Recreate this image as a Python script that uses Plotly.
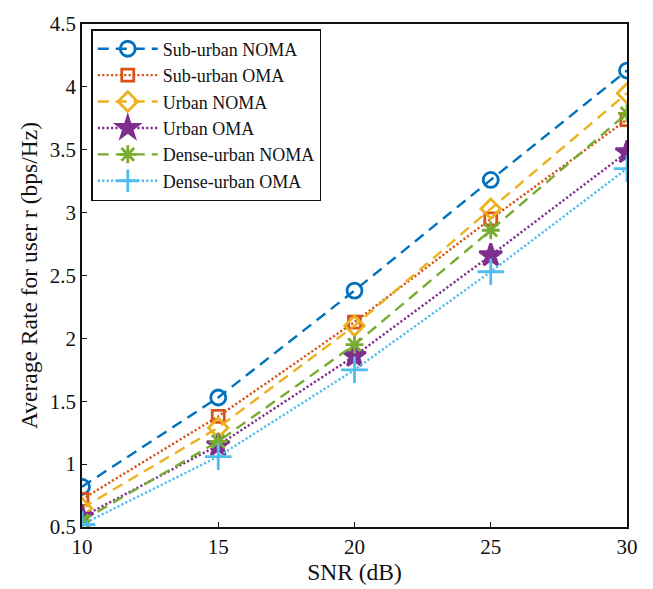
import plotly.graph_objects as go

snr = [10, 15, 20, 25, 30]
names = ["Sub-urban NOMA", "Sub-urban OMA", "Urban NOMA", "Urban OMA",
         "Dense-urban NOMA", "Dense-urban OMA"]
suburban_noma = [0.82, 1.53, 2.38, 3.26, 4.13]
suburban_oma = [0.72, 1.38, 2.13, 2.95, 3.74]
urban_noma = [0.65, 1.29, 2.10, 3.03, 3.95]
urban_oma = [0.58, 1.15, 1.86, 2.66, 3.48]
dense_noma = [0.55, 1.18, 1.95, 2.86, 3.79]
dense_oma = [0.52, 1.06, 1.75, 2.53, 3.35]
series = [suburban_noma, suburban_oma, urban_noma, urban_oma, dense_noma, dense_oma]

colors = ["#0072BD", "#D95319", "#EDB120", "#7E2F8E", "#77AC30", "#4DBEEE"]
dashes = ["11px,7px", "2.2px,2.2px", "11px,7px", "2.2px,2.2px", "11px,7px", "2.2px,2.2px"]
symbols = ["circle-open", "square-open", "diamond-open", "star", "asterisk-open", "cross-thin-open"]
msizes = [15, 12, 15, 17, 15, 19]

fig = go.Figure()
for n, y, c, d, s, ms in zip(names, series, colors, dashes, symbols, msizes):
    fig.add_trace(go.Scatter(
        x=snr, y=y, name=n, mode="lines+markers",
        line=dict(color=c, width=2.4, dash=d),
        marker=dict(symbol=s, size=ms, color=c, line=dict(color=c, width=2.8)),
    ))

font = "Liberation Serif, Times New Roman, serif"
fig.update_layout(
    width=653, height=589,
    margin=dict(l=82, r=26, t=16, b=59),
    paper_bgcolor="white", plot_bgcolor="white",
    font=dict(family=font, size=21, color="#111"),
    showlegend=True,
    legend=dict(x=0.017, y=0.99, xanchor="left", yanchor="top",
                bgcolor="white", bordercolor="#111", borderwidth=1.5,
                font=dict(family=font, size=18, color="#111"),
                itemwidth=60, tracegroupgap=0),
)
fig.update_xaxes(range=[10, 30], tickvals=[10, 15, 20, 25, 30],
                 ticks="inside", ticklen=5, tickcolor="#111",
                 tickfont=dict(size=21),
                 showline=True, linecolor="#111", linewidth=1.5, mirror=True,
                 showgrid=False, zeroline=False,
                 title=dict(text="SNR (dB)", standoff=2, font=dict(size=23.5)))
fig.update_yaxes(range=[0.5, 4.5], tickvals=[0.5, 1, 1.5, 2, 2.5, 3, 3.5, 4, 4.5],
                 ticktext=["0.5", "1", "1.5", "2", "2.5", "3", "3.5", "4", "4.5"],
                 ticks="inside", ticklen=5, tickcolor="#111",
                 tickfont=dict(size=21),
                 showline=True, linecolor="#111", linewidth=1.5, mirror=True,
                 showgrid=False, zeroline=False,
                 title=dict(text="Average Rate for user r (bps/Hz)", standoff=6, font=dict(size=23.5)))

fig.write_html("out.html")
